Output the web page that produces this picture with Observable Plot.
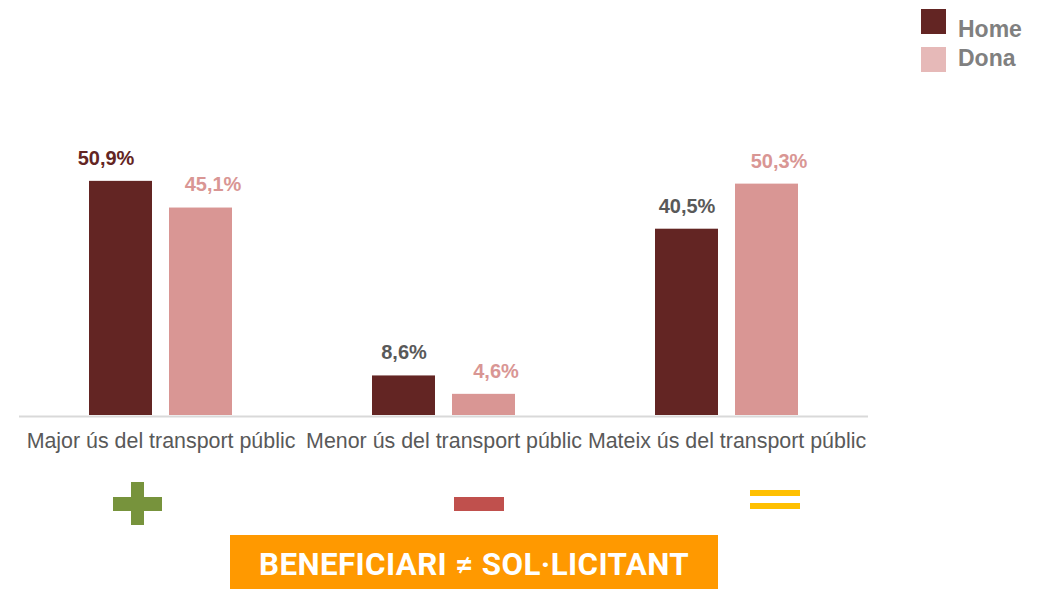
<!DOCTYPE html>
<html>
<head>
<meta charset="utf-8">
<script src="https://cdn.jsdelivr.net/npm/d3@7"></script>
<script src="https://cdn.jsdelivr.net/npm/@observablehq/plot@0.6"></script>
<style>
  html, body { margin: 0; padding: 0; background: #fff; }
  #wrap { position: relative; width: 1054px; height: 589px; overflow: hidden; font-family: "Liberation Sans", Arial, sans-serif; }
  #legend { position: absolute; left: 921px; top: 9px; width: 130px; height: 70px; }
  .sw { position: absolute; left: 0; width: 25px; height: 25px; }
  .lt { position: absolute; left: 37px; font-size: 23px; line-height: 26px; font-weight: bold; color: #808080; }
  .icon { position: absolute; }
  #banner { position: absolute; left: 230px; top: 535px; width: 488px; height: 54px; background: #ff9900;
            color: #fff; font-family: Roboto, sans-serif; font-weight: bold; font-size: 31.3px; letter-spacing: 0.4px;
            display: flex; align-items: center; justify-content: center; }
  #banner span { display: inline-block; white-space: nowrap; position: relative; top: 2px; }
</style>
</head>
<body>
<div id="wrap">
  <div id="chart"></div>
  <div id="legend"></div>
  <div class="icon" style="left:131px;top:482px;width:13px;height:43px;background:#77933c"></div>
  <div class="icon" style="left:113px;top:497px;width:49px;height:14px;background:#77933c"></div>
  <div class="icon" style="left:454px;top:497px;width:50px;height:14px;background:#c0504d"></div>
  <div class="icon" style="left:750px;top:490px;width:50px;height:6px;background:#ffc000"></div>
  <div class="icon" style="left:750px;top:503px;width:50px;height:6px;background:#ffc000"></div>
  <div id="banner"><span>BENEFICIARI ≠ SOL·LICITANT</span></div>
</div>
<script>
const categories = ["Major ús del transport públic", "Menor ús del transport públic", "Mateix ús del transport públic"];
const series = ["Home", "Dona"];
const homeValues = [50.9, 8.6, 40.5];
const donaValues = [45.1, 4.6, 50.3];

const colors = { Home: "#632523", Dona: "#d99694" };
const legendColors = { Home: "#632523", Dona: "#e6b9b8" };

const data = [];
categories.forEach((c, i) => {
  data.push({ category: c, series: "Home", value: homeValues[i] });
  data.push({ category: c, series: "Dona", value: donaValues[i] });
});
const fmt = v => v.toFixed(1).replace(".", ",") + "%";
const labelColor = d => d.series === "Dona" ? "#d99694" : (d.category === categories[0] ? "#632523" : "#595959");

const textOpts = { fx: "category", x: "series", y: "value", text: d => fmt(d.value),
  dy: -23, fill: labelColor, fontSize: 20, fontWeight: "bold" };

const chart = Plot.plot({
  width: 1054,
  height: 589,
  marginLeft: 18,
  marginRight: 186,
  marginTop: 139,
  marginBottom: 174,
  style: { fontFamily: "Liberation Sans, Arial, sans-serif", background: "transparent" },
  fx: { domain: categories, padding: 0, label: null, axis: "bottom", tickSize: 0, tickPadding: 17 },
  x: { domain: series, axis: null, paddingInner: 0.21, paddingOuter: 0.86 },
  y: { domain: [0, 60], axis: null },
  marks: [
    Plot.barY(data, { fx: "category", x: "series", y: "value", fill: d => colors[d.series] }),
    Plot.ruleY([0], { stroke: "#d9d9d9", strokeWidth: 2, dy: 1 }),
    Plot.text(data.filter(d => d.series === "Home" && d.category === categories[0]), { ...textOpts, dx: -15 }),
    Plot.text(data.filter(d => d.series === "Home" && d.category !== categories[0]), { ...textOpts, dx: 0 }),
    Plot.text(data.filter(d => d.series === "Dona"), { ...textOpts, dx: 12 })
  ]
});
document.getElementById("chart").appendChild(chart);

chart.querySelectorAll("g[aria-label='fx-axis tick label'] text").forEach(t => {
  t.setAttribute("font-size", "21.4");
  t.setAttribute("fill", "#595959");
});

const legend = document.getElementById("legend");
const swatchTops = [0, 38];
const labelTops = [7, 36];
series.forEach((s, i) => {
  const sw = document.createElement("div");
  sw.className = "sw";
  sw.style.top = swatchTops[i] + "px";
  sw.style.background = legendColors[s];
  legend.appendChild(sw);
  const lt = document.createElement("div");
  lt.className = "lt";
  lt.style.top = labelTops[i] + "px";
  lt.textContent = s;
  legend.appendChild(lt);
});
</script>
</body>
</html>
